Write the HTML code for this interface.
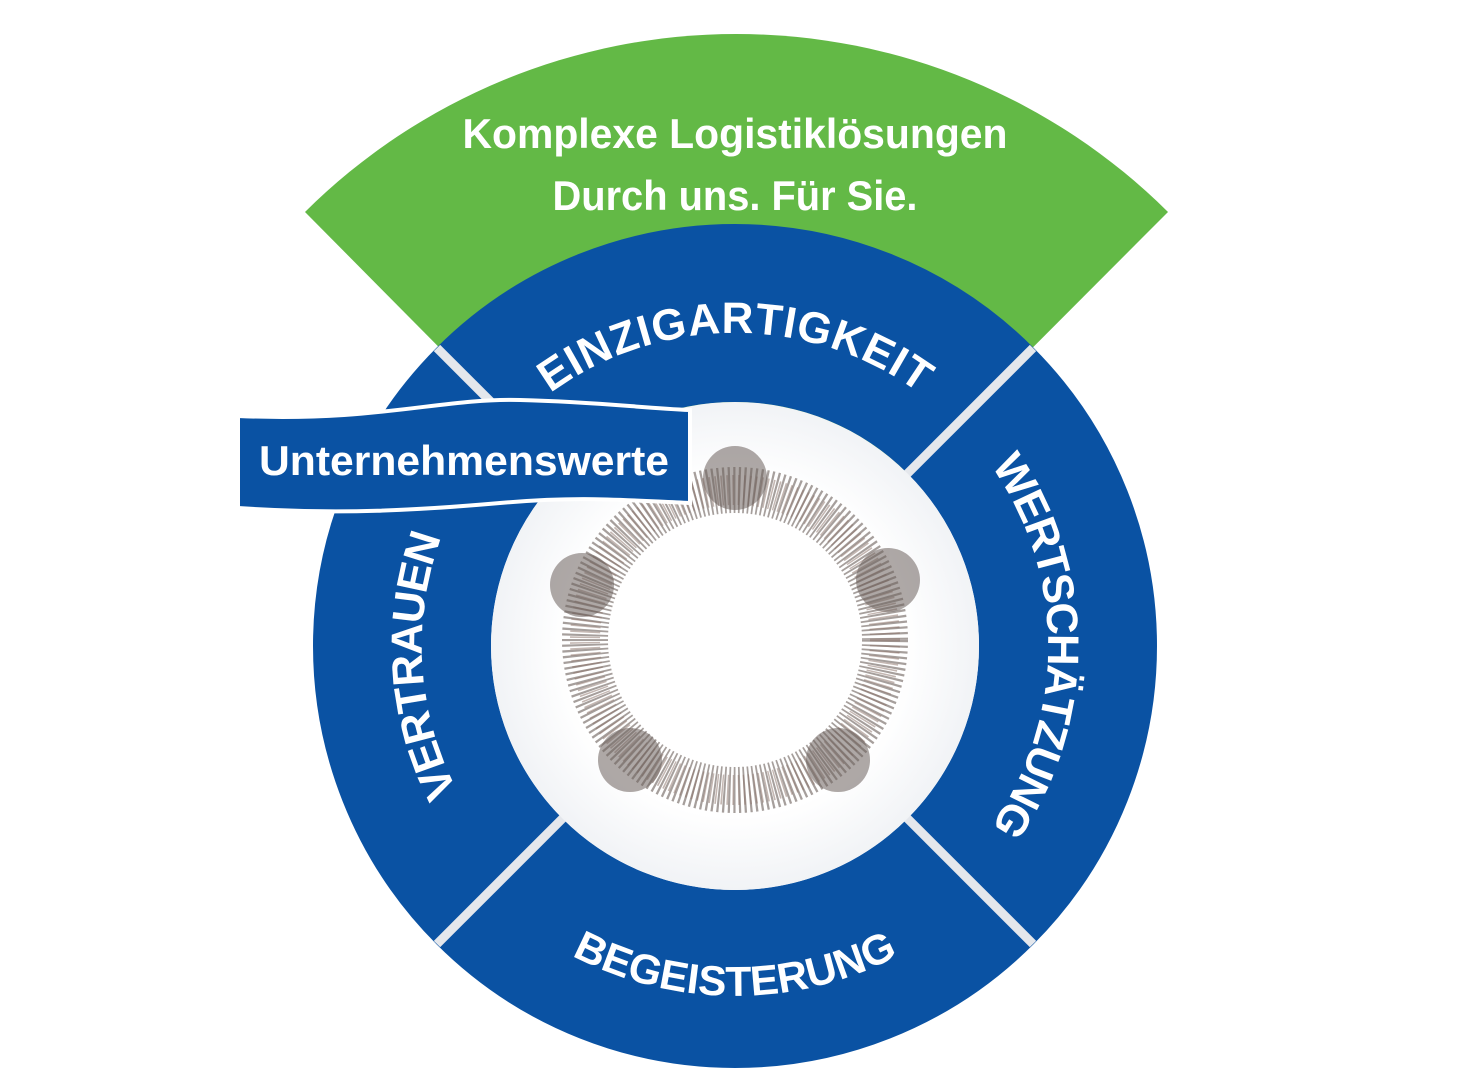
<!DOCTYPE html>
<html><head><meta charset="utf-8"><style>
html,body{margin:0;padding:0;background:#fff;}
svg{display:block;}
text{font-family:"Liberation Sans",sans-serif;font-weight:bold;fill:#fff;}
</style></head><body>
<svg width="1458" height="1080" viewBox="0 0 1458 1080" xmlns="http://www.w3.org/2000/svg">
<defs>
<path id="cw" d="M 735,959 A 313 313 0 1 1 735,333 A 313 313 0 1 1 735,959"/>
<path id="ccw" d="M 385,646 A 350 350 0 0 0 1085,646"/>
<radialGradient id="bg" cx="50%" cy="50%" r="50%">
<stop offset="0.7" stop-color="#ffffff"/><stop offset="1" stop-color="#f1f3f6"/>
</radialGradient>
</defs>
<path d="M 735,646 L 305,212 A 612 612 0 0 1 1168,212 Z" fill="#63b946"/>
<circle cx="735" cy="646" r="333" fill="none" stroke="#0a52a3" stroke-width="178"/>
<g stroke="#e4e7ec" stroke-width="9">
<line x1="563" y1="474" x2="437" y2="348"/>
<line x1="907" y1="474" x2="1033" y2="348"/>
<line x1="563" y1="818" x2="437" y2="944"/>
<line x1="907" y1="818" x2="1033" y2="944"/>
</g>
<circle cx="735" cy="646" r="244" fill="url(#bg)"/>
<g fill="none">
<circle cx="735" cy="640" r="150" stroke="#6b5f5a" stroke-width="46" stroke-dasharray="2 3" opacity="0.6"/>
<circle cx="735" cy="640" r="150" stroke="#8a6f66" stroke-width="30" stroke-dasharray="1.5 4" opacity="0.5"/>
</g>
<g fill="#6b605c" opacity="0.55">
<circle cx="735" cy="478" r="32"/>
<circle cx="888" cy="580" r="32"/>
<circle cx="838" cy="760" r="32"/>
<circle cx="630" cy="760" r="32"/>
<circle cx="582" cy="585" r="32"/>
</g>
<circle cx="735" cy="640" r="120" fill="#fff"/>
<text font-size="44"><textPath href="#cw" startOffset="50%" text-anchor="middle" textLength="395" lengthAdjust="spacing">EINZIGARTIGKEIT</textPath></text>
<text font-size="44"><textPath href="#cw" startOffset="75%" text-anchor="middle" textLength="385" lengthAdjust="spacing">WERTSCHÄTZUNG</textPath></text>
<text font-size="44"><textPath href="#cw" startOffset="24%" text-anchor="middle" textLength="262" lengthAdjust="spacing">VERTRAUEN</textPath></text>
<text font-size="42"><textPath href="#ccw" startOffset="50%" text-anchor="middle" textLength="340" lengthAdjust="spacingAndGlyphs">BEGEISTERUNG</textPath></text>
<text x="735" y="148" font-size="42" text-anchor="middle" textLength="545" lengthAdjust="spacingAndGlyphs">Komplexe Logistiklösungen</text>
<text x="735" y="210" font-size="42" text-anchor="middle" textLength="365" lengthAdjust="spacingAndGlyphs">Durch uns. Für Sie.</text>
<path d="M 238,416 C 380,422 440,398 520,400 C 600,402 640,408 690,410 L 690,503 C 620,500 580,496 500,503 C 420,510 340,515 238,508 Z" fill="#0a52a3" stroke="#fff" stroke-width="4"/>
<text x="464" y="475" font-size="42" text-anchor="middle" textLength="410" lengthAdjust="spacingAndGlyphs">Unternehmenswerte</text>
</svg>
</body></html>
